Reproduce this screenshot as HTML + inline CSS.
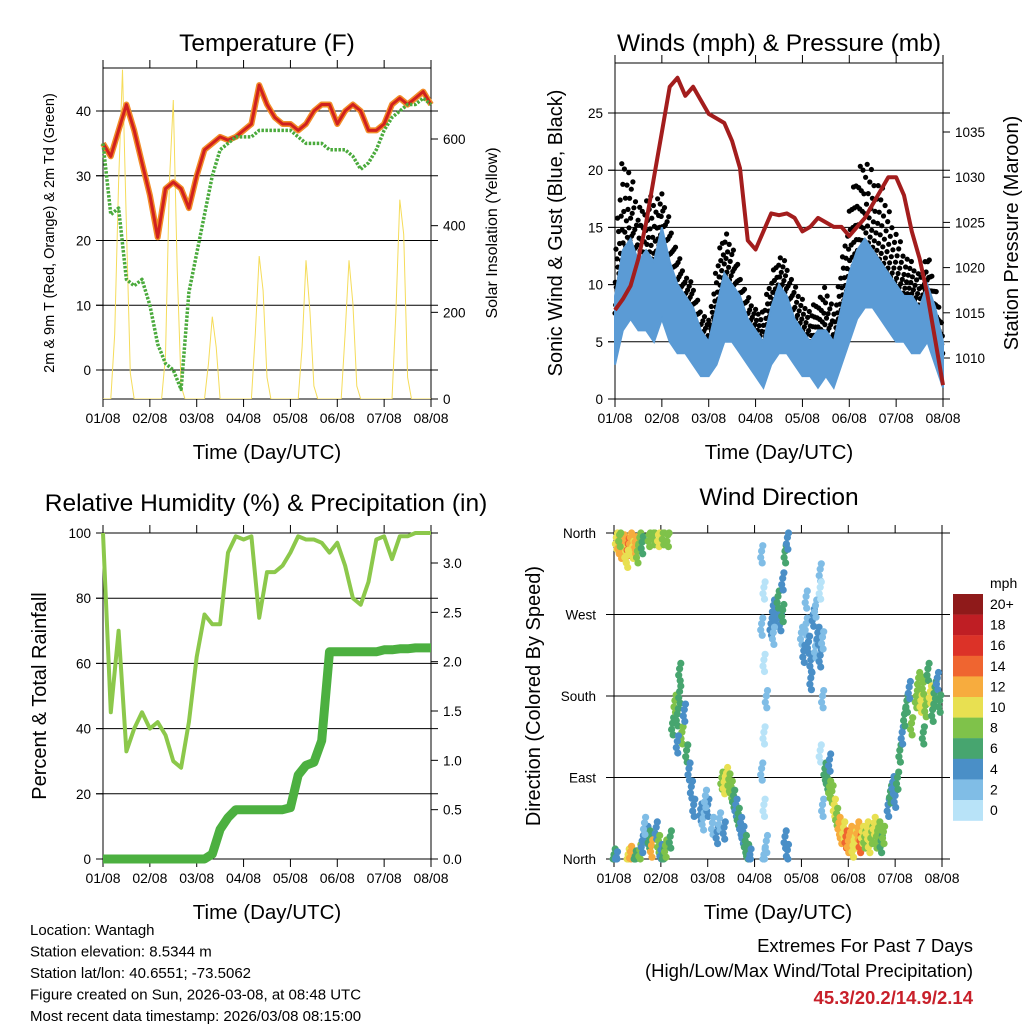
<!DOCTYPE html>
<html><head><meta charset="utf-8"><style>
body{margin:0;background:#fff}
svg{display:block}
text{font-family:"Liberation Sans",sans-serif;fill:#000}
</style></head><body>
<svg id="c" width="1024" height="1024" viewBox="0 0 1024 1024"></svg>
<script>
const tempF=[35,33,37,41,37,32,27,20.5,28,29,28,25,30,34,35,36,35.5,36,37,38,44,41,39,38,38,37,38,40,41,41,38,40,41,40,37,37,38,41,42,41,42,43,41];
const dewF=[35,24,25,14,13,14,10,4,1,0,-3,12,18,24,30,34,35,36,36,36,37,37,37,37,37,36,35,35,35,34,34,34,33,31,32,34,37,39,40,41,41,42,41];
const solar=[0,0,0,150,500,760,400,60,0,0,0,0,0,0,0,0,100,500,690,300,30,0,0,0,0,0,0,80,190,120,0,0,0,0,0,0,0,0,0,150,330,250,50,0,0,0,0,0,0,0,0,120,320,200,30,0,0,0,0,0,0,0,150,320,220,30,0,0,0,0,0,0,0,0,0,200,460,380,50,0,0,0,0,0,0];
const windLo=[3,6,7,6,6,5,7,5,4,4,3,2,2,3,5,5,4,3,2,1,3,4,4,3,2,2,1,2,1,3,5,7,8,8,7,6,5,5,4,4,5,3,1];
const windHi=[9,13,14,12,13,12,15,12,10,9,8,6,5,8,11,10,9,7,6,5,8,10,9,7,6,5,6,6,5,8,11,13,14,13,12,11,10,9,9,8,10,8,5];
const gustLo=[8,12,13,10,12,12,14,10,8,7,5,4,4,6,10,9,7,5,4,3,6,8,8,6,5,4,4,5,3,6,10,13,15,14,13,12,10,9,8,7,8,6,3];
const gustHi=[14,22,20,17,18,18,18,16,13,11,10,8,7,12,15,14,11,9,8,8,11,13,12,10,9,8,9,10,8,12,17,20,22,20,19,17,15,13,12,11,13,10,7];
const pressure=[1015.3,1016.5,1018,1021,1025,1030,1035,1040,1041,1039,1040,1038.5,1037,1036.5,1036,1034,1031,1023,1022,1024,1026,1025.8,1026,1025.5,1024,1024.5,1025.5,1025,1024.5,1024.5,1023.5,1024.5,1025.5,1027,1028.5,1030,1030,1028,1024,1021,1017,1012,1007];
const rh=[100,45,70,33,40,45,40,42,38,30,28,42,62,75,72,72,94,99,98,99,74,88,88,90,94,99,98,98,97,94,97,90,80,78,85,98,99,92,99,99,100,100,100];
const precip=[0,0,0,0,0,0,0,0,0,0,0,0,0,0,0.05,0.3,0.42,0.5,0.5,0.5,0.5,0.5,0.5,0.5,0.52,0.85,0.95,0.98,1.2,2.1,2.1,2.1,2.1,2.1,2.1,2.1,2.12,2.12,2.13,2.13,2.14,2.14,2.14];
const dirDays=[0.05,0.1,0.15,0.2,0.25,0.3,0.35,0.4,0.45,0.5,0.55,0.12,0.28,0.6,0.75,0.85,0.95,1.05,1.15,
0.0,0.05,0.3,0.35,0.45,0.55,0.6,0.7,0.75,0.8,0.9,0.95,1.0,1.05,1.1,1.2,0.65,
1.25,1.3,1.35,1.4,1.45,1.5,1.55,1.6,1.65,1.7,1.4,1.35,
1.85,1.9,2.0,2.1,2.2,1.95,
2.3,2.35,2.4,2.45,2.5,2.55,2.6,2.65,2.7,2.75,2.8,2.85,2.9,2.25,2.35,
3.15,3.2,3.15,3.2,3.25,3.2,3.15,3.2,3.25,3.2,
3.35,3.4,3.45,3.5,3.55,3.6,3.4,3.65,3.7,3.6,3.7,3.65,
4.0,4.05,4.1,4.15,4.2,4.25,4.3,4.35,4.4,4.45,4.1,4.3,4.2,4.4,4.45,4.4,4.45,4.4,
4.5,4.55,4.6,4.65,4.7,4.75,4.6,
4.8,4.85,4.9,4.95,5.0,5.05,5.1,5.15,5.2,5.25,5.3,
5.35,5.4,5.45,5.5,5.55,5.6,5.65,5.7,5.75,
5.85,5.9,5.95,6.0,6.05,
6.1,6.15,6.2,6.25,6.3,6.35,
6.45,6.5,6.55,6.6,6.65,6.7,6.75,6.8,6.85,6.9,6.95,6.6];
const dirDegs=[355,350,345,352,340,348,355,345,350,340,355,358,335,350,358,360,358,360,358,
5,2,5,8,3,10,20,30,25,15,35,20,10,5,15,25,40,
150,175,160,185,140,165,120,100,80,60,210,130,
55,45,60,40,30,70,
90,85,95,88,80,70,60,50,40,30,20,10,5,45,35,
340,300,260,220,180,140,100,60,20,5,
260,280,270,290,265,275,250,340,355,310,10,25,
250,230,260,240,220,270,235,250,225,245,290,280,200,320,180,120,60,300,
100,90,80,75,60,50,110,
40,30,35,25,20,30,15,25,35,20,30,
25,35,20,30,40,25,35,20,30,
60,75,85,70,90,
120,140,160,175,190,150,
180,200,175,195,170,210,185,165,190,200,175,140];
const dirSpeeds=[10,12,13,12,11,14,12,10,12,9,8,8,10,6,9,8,10,9,8,
7,5,11,12,6,8,5,4,7,13,5,8,4,6,9,6,3,
6,8,7,6,9,5,6,5,4,5,7,4,
4,3,4,3,5,2,
9,10,11,8,9,6,5,6,5,4,6,7,4,3,4,
2,1,2,1,2,1,2,1,2,3,
4,4,5,6,5,7,3,7,5,4,5,4,
3,4,3,5,4,4,3,5,4,3,2,3,4,2,2,1,2,1,
6,7,8,9,10,8,5,
12,13,11,14,12,13,11,10,12,14,10,
9,10,11,9,10,8,9,7,8,
5,6,4,5,6,
6,5,7,6,5,8,
8,9,10,8,9,7,10,6,7,5,6,7];
const dayTicks=["01/08","02/08","03/08","04/08","05/08","06/08","07/08","08/08"];
const speedLabels=["20+","18","16","14","12","10","8","6","4","2","0"];
const speedColors=["#8f1a1a","#bf1e24","#dc3228","#ef6530","#f7ac3e","#e8e051","#7fc24a","#47a56f","#4a8fc7","#80bde6","#b8e3f8"];

const svg=document.getElementById('c');
const NS='http://www.w3.org/2000/svg';
function mk(tag,attrs,parent){const e=document.createElementNS(NS,tag);for(const k in attrs)e.setAttribute(k,attrs[k]);(parent||svg).appendChild(e);return e;}
function txt(s,x,y,size,anchor,parent,extra){const t=mk('text',Object.assign({x:x,y:y,'font-size':size,'text-anchor':anchor||'middle'},extra||{}),parent);t.textContent=s;return t;}
function lin(d0,d1,p0,p1){return v=>p0+(v-d0)/(d1-d0)*(p1-p0);}
function pts(arr,xs,ys,step){return arr.map((v,i)=>xs(i*step).toFixed(1)+','+ys(v).toFixed(1)).join(' ');}

function frame(x0,x1,y0,y1,name){
  const g=mk('g',{});
  
  
  mk('rect',{x:x0,y:y0,width:x1-x0,height:y1-y0,fill:'none',stroke:'#000','stroke-width':1},g);
  const xs=lin(0,7,x0,x1);
  dayTicks.forEach((l,i)=>{
    const x=xs(i);
    mk('line',{x1:x,x2:x,y1:y1,y2:y1+8,stroke:'#000'},g);
    mk('line',{x1:x,x2:x,y1:y0,y2:y0-8,stroke:'#000'},g);
    const t=txt(l,x,y1+24,14,'middle',g);
    
    
  });
  const xt=txt('Time (Day/UTC)',(x0+x1)/2,y1+60,20.5,'middle',g);
  
  
  return {g,xs};
}
function yTicks(g,vals,ys,x0,x1,side,fmt,grid){
  vals.forEach(v=>{
    const y=ys(v);
    if(grid) mk('line',{x1:x0-7,x2:x1+7,y1:y,y2:y,stroke:'#000','stroke-width':1},g);
    const xe=side==='l'?x0:x1;
    mk('line',{x1:xe,x2:side==='l'?xe-7:xe+7,y1:y,y2:y,stroke:'#000'},g);
    const t=txt(fmt(v),side==='l'?x0-12:x1+12,y+5,13.5,side==='l'?'end':'start',g);
    
    
  });
}
function rotLabel(s,x,y,size,name){
  const t=txt(s,x,y,size,'middle',svg,{transform:'rotate(-90 '+x+' '+y+')'});
  
  
}
function title(s,x,y,name){const t=txt(s,x,y,24.5,'middle');}

// ---------- Panel 1 Temperature ----------
{
  const X0=103,X1=431,Y0=68,Y1=399;
  const f=frame(X0,X1,Y0,Y1,'temperature-panel');
  const ys=lin(0,40,370,111), ys2=lin(0,600,399,139);
  yTicks(f.g,[0,10,20,30,40],ys,X0,X1,'l',v=>v,true);
  yTicks(f.g,[0,200,400,600],ys2,X0,X1,'r',v=>v,false);
  const clip=mk('clipPath',{id:'cp1'});mk('rect',{x:X0,y:Y0-10,width:X1-X0,height:Y1-Y0+10},clip);
  const s=mk('polyline',{points:pts(solar,f.xs,ys2,1/12),fill:'none',stroke:'#f5dc5a','stroke-width':1,'clip-path':'url(#cp1)'});
  
  
  const o=mk('polyline',{points:pts(tempF,f.xs,ys,1/6),fill:'none',stroke:'#f28c28','stroke-width':6,'stroke-linejoin':'round'});
  
  
  const r=mk('polyline',{points:pts(tempF,f.xs,ys,1/6),fill:'none',stroke:'#d0201f','stroke-width':3,'stroke-linejoin':'round'});
  
  
  const d=mk('polyline',{points:pts(dewF,f.xs,ys,1/6),fill:'none',stroke:'#4aaa3c','stroke-width':3.5,'stroke-dasharray':'2.5 1.5','stroke-linejoin':'round'});
  
  
  title('Temperature (F)',267,51,'temperature-title');
  rotLabel('2m & 9m T (Red, Orange) & 2m Td (Green)',54,233,14.5,'temperature-y-axis-title');
  rotLabel('Solar Insolation (Yellow)',497,233,16,'solar-y-axis-title');
}
// ---------- Panel 2 Winds ----------
{
  const X0=615,X1=943,Y0=63,Y1=399;
  const f=frame(X0,X1,Y0,Y1,'winds-panel');
  const ys=lin(0,25,399,113), ys2=lin(1010,1035,358,132);
  yTicks(f.g,[0,5,10,15,20,25],ys,X0,X1,'l',v=>v,true);
  yTicks(f.g,[1010,1015,1020,1025,1030,1035],ys2,X0,X1,'r',v=>v,false);
  const top=windHi.map((v,i)=>f.xs(i/6).toFixed(1)+','+ys(v).toFixed(1));
  const bot=windLo.map((v,i)=>f.xs(i/6).toFixed(1)+','+ys(v).toFixed(1)).reverse();
  const dg=mk('g',{});
  
  
  const phi=0.618;
  for(let i=0;i<gustLo.length-1;i++){
    for(let k=0;k<24;k++){
      const t=(i+k/24)/6;
      const fr=((i*24+k)*phi)%1;
      const lo=windHi[i]+(windHi[i+1]-windHi[i])*k/24-1.5, hi=gustHi[i]+(gustHi[i+1]-gustHi[i])*k/24;
      const c=mk('circle',{cx:f.xs(t).toFixed(1),cy:ys(lo+(hi-lo)*fr*fr).toFixed(1),r:2.6,fill:'#000'},dg);
      
      
    }
  }
  const b=mk('polygon',{points:top.concat(bot).join(' '),fill:'#5b9bd5',stroke:'#5b9bd5','stroke-width':2});
  
  
  const p=mk('polyline',{points:pts(pressure,f.xs,ys2,1/6),fill:'none',stroke:'#a31d1d','stroke-width':4,'stroke-linejoin':'round'});
  
  
  title('Winds (mph) & Pressure (mb)',779,51,'winds-title');
  rotLabel('Sonic Wind & Gust (Blue, Black)',562,233,20,'wind-y-axis-title');
  rotLabel('Station Pressure (Maroon)',1018,233,20,'pressure-y-axis-title');
}
// ---------- Panel 3 RH ----------
{
  const X0=103,X1=431,Y0=533,Y1=859;
  const f=frame(X0,X1,Y0,Y1,'humidity-panel');
  const ys=lin(0,100,859,533), ys2=lin(0,3,859,563);
  yTicks(f.g,[0,20,40,60,80,100],ys,X0,X1,'l',v=>v,true);
  yTicks(f.g,[0,0.5,1,1.5,2,2.5,3],ys2,X0,X1,'r',v=>v.toFixed(1),false);
  const r=mk('polyline',{points:pts(rh,f.xs,ys,1/6),fill:'none',stroke:'#8cc84b','stroke-width':4,'stroke-linejoin':'round'});
  
  
  const p=mk('polyline',{points:pts(precip,f.xs,ys2,1/6),fill:'none',stroke:'#4cb040','stroke-width':9,'stroke-linejoin':'round'});
  
  
  title('Relative Humidity (%) & Precipitation (in)',266,511,'humidity-title');
  rotLabel('Percent & Total Rainfall',46,696,20,'humidity-y-axis-title');
}
// ---------- Panel 4 Wind Direction ----------
{
  const X0=614,X1=942,Y0=533,Y1=859;
  const f=frame(X0,X1,Y0,Y1,'wind-direction-panel');
  const ys=lin(0,360,859,533);
  const names=['North','East','South','West','North'];
  [0,90,180,270,360].forEach((v,i)=>{
    const y=ys(v);
    mk('line',{x1:X0-8,x2:X1+8,y1:y,y2:y,stroke:'#000'},f.g);
    const t=txt(names[i],X0-18,y+5,13.5,'end',f.g);
    
    
  });
  const dg=mk('g',{});
  
  
  const offs=[[0,0],[0.025,6],[-0.02,-7],[0.012,-13]];
  dirDays.forEach((d,i)=>{
    const sp=dirSpeeds[i];
    const bin=Math.min(10,Math.floor(sp/2));
    offs.forEach(o=>{
      const deg=Math.max(0,Math.min(360,dirDegs[i]+o[1]));
      const c=mk('circle',{cx:f.xs(d+o[0]).toFixed(1),cy:ys(deg).toFixed(1),r:3.6,fill:speedColors[10-bin]},dg);
      
      
    });
  });
  const cb=mk('g',{});
  
  
  txt('mph',990,588,14,'start',cb);
  speedLabels.forEach((l,i)=>{
    const y=594+i*20.6;
    mk('rect',{x:953,y:y,width:30,height:20.8,fill:speedColors[i]},cb);
    const t=txt(l,990,y+15,14,'start',cb);
    
    
  });
  title('Wind Direction',779,505,'wind-direction-title');
  rotLabel('Direction (Colored By Speed)',540,696,20,'direction-y-axis-title');
}
// ---------- Footer ----------
{
  const g=mk('g',{});
  
  
  ['Location: Wantagh','Station elevation: 8.5344 m','Station lat/lon: 40.6551; -73.5062','Figure created on Sun, 2026-03-08, at 08:48 UTC','Most recent data timestamp: 2026/03/08 08:15:00']
    .forEach((s,i)=>txt(s,30,935+i*21.5,15,'start',g));
  const e=mk('g',{});
  
  
  txt('Extremes For Past 7 Days',973,952,18.5,'end',e);
  txt('(High/Low/Max Wind/Total Precipitation)',973,977,18.5,'end',e);
  const r=txt('45.3/20.2/14.9/2.14',973,1004,18.5,'end',e,{'font-weight':'bold'});
  r.setAttribute('fill','#c8202a');r.style.fill='#c8202a';
}
</script>
</body></html>
